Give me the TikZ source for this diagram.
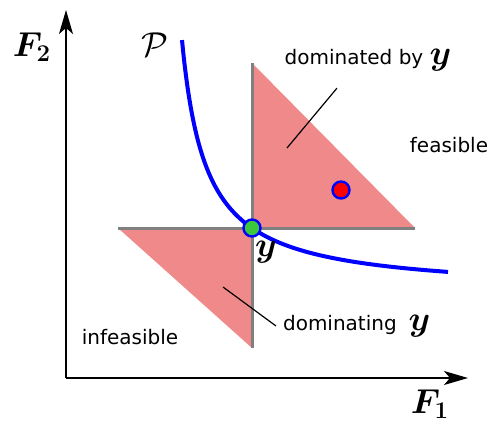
\documentclass[tikz,border=0pt]{standalone}
\usepackage{amsmath,bm}
\usepackage{fontspec}
\setmainfont{DejaVu Sans}
\usetikzlibrary{arrows.meta}
\definecolor{regred}{RGB}{240,138,138}
\definecolor{ptgreen}{RGB}{60,200,60}

\begin{document}
\begin{tikzpicture}[x=0.5pt,y=0.5pt,font=\normalsize,
 ax/.style={-{Stealth[length=12pt,width=7pt,inset=3pt]},line width=0.75pt},
 cone/.style={fill=regred},edge/.style={gray,line width=1.5pt},
 lead/.style={line width=0.6pt},
 pt/.style={circle,draw=blue,line width=1.2pt,inner sep=0pt,minimum size=8.5pt},
 mth/.style={font=\LARGE}]
\useasboundingbox (0,0) rectangle (488,424);
\coordinate (O) at (66,46);
\coordinate (yv) at (252,196);
\fill[cone] (yv) -- (252,361) -- (415,196) -- cycle;
\fill[cone] (yv) -- (118,196) -- (252,76) -- cycle;
\draw[edge] (252,361) -- (252,76);
\draw[edge] (118,196) -- (415,196);
\draw[ax] (O) -- (66,414);
\draw[ax] (O) -- (468,46);
\draw[blue,line width=2pt,domain=182:448,samples=150,smooth] plot (\x,{131+6120/(\x-157.8)});
\node[pt,fill=ptgreen] (y) at (yv) {};
\node[pt,fill=red] (q) at (341,234) {};
\node[mth] (ylab) at (266,172) {$\bm{y}$};
\node[mth] (P) at (155,379) {$\mathcal{P}$};
\node[mth] (F2) at (32,377) {$\bm{F_2}$};
\node[mth] (F1) at (430,20) {$\bm{F_1}$};
\node (dby) at (368,364) {dominated by {\LARGE$\bm{y}$}};
\node (feas) at (449,279) {feasible};
\node (infeas) at (130,87) {infeasible};
\node[anchor=west] (dom) at (276,98) {dominating\hspace{6pt}{\LARGE$\bm{y}$}};
\coordinate (a1) at (287,276);
\coordinate (a2) at (223,137);
\draw[lead] ([shift={(-31,-10)}]dby.south) -- (a1);
\draw[lead] (a2) -- (dom.west);
\end{tikzpicture}
\end{document}
